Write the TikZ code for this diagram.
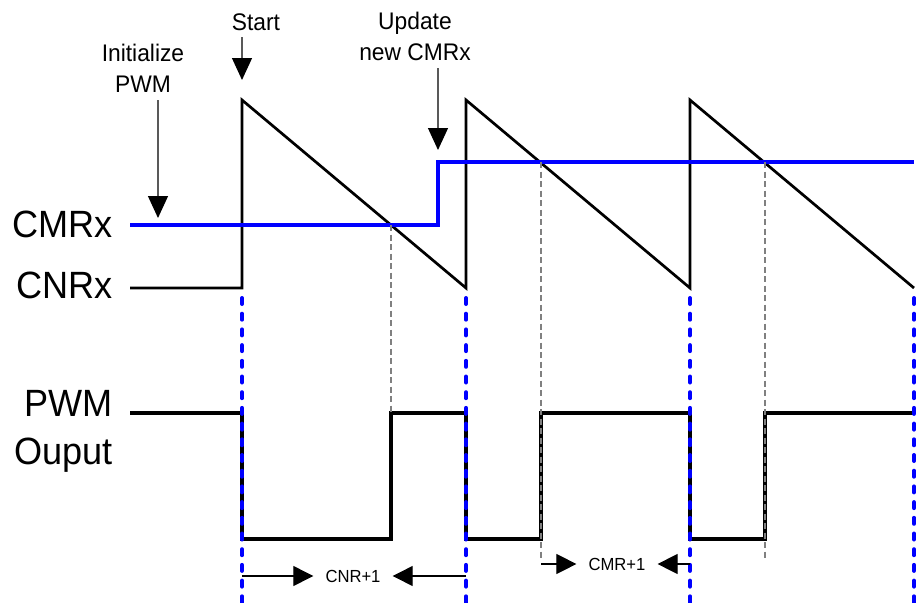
\documentclass[tikz,border=0pt]{standalone}
\usepackage{fontspec}
\setmainfont{Liberation Sans}[FakeStretch=0.95]
\usepackage{tikz}
\usetikzlibrary{arrows.meta, positioning, calc}

\tikzset{
  signame/.style={font=\fontsize{38}{48}\selectfont, inner sep=0pt, align=right},
  note/.style={font=\fontsize{24}{31}\selectfont, inner sep=0pt, align=center},
  spanlabel/.style={font=\fontsize{17.5}{22}\selectfont, inner ysep=0pt, inner xsep=12pt},
  marker/.style={draw=gray!70!black, line width=1.2pt, -{Triangle[width=20pt,length=22pt,color=black]}},
  spanarrow/.style={line width=1.2pt, -{Triangle[width=20pt,length=20pt]}},
  saw/.style={line width=2.7pt, line join=miter},
  cmr/.style={blue, line width=3.4pt},
  pwm/.style={line width=4.7pt, line join=miter},
  period/.style={blue, line width=4pt, line cap=round, dash pattern=on 6pt off 9.7pt},
  cross/.style={gray, line width=2.5pt, dash pattern=on 6pt off 3.5pt}
}

\begin{document}
\begin{tikzpicture}[x=1pt, y=-1pt]
	\useasboundingbox (0,0) rectangle (922,603);

	% signal names
	\node[signame, anchor=base east] (cmrname) at (113,237) {CMRx};
	\node[signame, anchor=base east] (cnrname) at (113,298) {CNRx};
	\node[signame, anchor=east] (pwmname) at (113,431) {PWM\\Ouput};

	% counter (sawtooth)
	\draw[saw] (130,288) -- (242,288) -- (242,100) -- (466,288) -- (466,100)
		-- (690,288) -- (690,100) -- (914,288);

	% compare value
	\draw[cmr] (130,225) -- (438,225) -- (438,162) -- (914,162);

	% PWM output
	\draw[pwm] (130,413) -- (242,413) -- (242,539) -- (391,539) -- (391,413)
		-- (466,413) -- (466,539) -- (541,539) -- (541,413) -- (690,413)
		-- (690,539) -- (765,539) -- (765,413) -- (914,413);

	% period boundaries
	\foreach \px [count=\i] in {242,466,690,914} {
		\coordinate (top\i) at (\px,298);
		\draw[period] (top\i) -- (\px,606);
	}

	% compare matches
	\coordinate (match1) at (391,225);
	\coordinate (match2) at (541,162);
	\coordinate (match3) at (765,162);
	\draw[cross] (match1) -- (391,413);
	\draw[cross] (match2) -- (541,558);
	\draw[cross] (match3) -- (765,558);

	% events
	\node[note, anchor=base] (start) at (256,30) {Start};
	\node[note, anchor=south] (init) at (143,93) {Initialize\\PWM};
	\node[note, anchor=south] (update) at (415,61) {Update\\new CMRx};
	\coordinate (startTip) at (242,80);
	\coordinate (initTip) at (158,218);
	\coordinate (updateTip) at (438,150);
	\draw[marker] ([yshift=-7pt]start.south -| startTip) -- (startTip);
	\draw[marker] ([yshift=-7pt]init.south -| initTip) -- (initTip);
	\draw[marker] ([yshift=-7pt]update.south -| updateTip) -- (updateTip);

	% period and duty spans
	\node[spanlabel] (cnrspan) at (353,576) {CNR+1};
	\node[spanlabel] (cmrspan) at (617,564) {CMR+1};
	\draw[spanarrow] (top1 |- cnrspan) -- (cnrspan.west);
	\draw[spanarrow] (top2 |- cnrspan) -- (cnrspan.east);
	\draw[spanarrow] (match2 |- cmrspan) -- (cmrspan.west);
	\draw[spanarrow] (top3 |- cmrspan) -- (cmrspan.east);
\end{tikzpicture}
\end{document}
